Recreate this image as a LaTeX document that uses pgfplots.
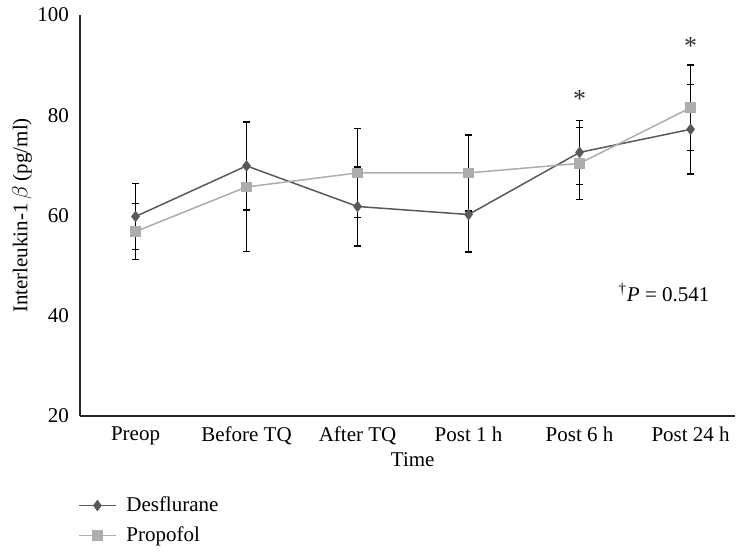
\documentclass[border=0pt]{standalone}
\usepackage{fontspec}
\setmainfont{Liberation Serif}
\usepackage{pgfplots}
\pgfplotsset{compat=1.18}
\definecolor{desf}{HTML}{595959}
\definecolor{prop}{HTML}{ADADAD}
\begin{document}
\begin{tikzpicture}[font=\fontsize{10.5}{12}\selectfont]
\useasboundingbox (-40pt,-69pt) rectangle (328.5pt,208pt);
\begin{axis}[at={(0,0)}, anchor=south west, scale only axis,
  width=327.5pt, height=200.5pt,
  xmin=-0.5, xmax=5.4, ymin=20, ymax=100,
  axis lines=left,
  axis line style={-, line width=0.6pt, black!85},
  xtick={0,...,5},
  xticklabels={Preop, Before TQ, After TQ, Post 1 h, Post 6 h, Post 24 h},
  ytick={20,40,...,100},
  major tick length=0pt,
  /pgf/number format/assume math mode=true,
  xticklabel style={yshift=-2pt},
  yticklabel style={xshift=-2pt},
  every axis x label/.style={at={(axis description cs:0.508,-0.1097)}, anchor=center},
  every axis y label/.style={at={(axis description cs:-0.0886,0.5)}, rotate=90, anchor=center},
  xlabel={Time},
  ylabel={Interleukin-1\,$\beta$ (pg/ml)},
  legend style={at={(axis description cs:-0.003,-0.19)}, anchor=north west,
    draw=none, fill=none, row sep=2pt, inner sep=0pt,
    nodes={inner xsep=5pt}},
  legend image code/.code={\draw[mark repeat=2,mark phase=2,#1] plot coordinates {(0cm,0cm) (0.32cm,0cm) (0.64cm,0cm)};},
  legend cell align=left,
  clip=false,
]
\addplot[desf, line width=0.75pt, mark=diamond*, mark size=2.3pt,
  mark options={fill=desf, draw=desf},
  error bars/.cd, y dir=both, y explicit,
  error bar style={black, line width=0.8pt},
  error mark options={rotate=90, mark size=1.6pt, black, line width=0.7pt}]
  coordinates {
  (0,59.8) +- (0,6.6)
  (1,69.9) +- (0,8.8)
  (2,61.8) +- (0,7.9)
  (3,60.2) +- (0,7.5)
  (4,72.6) +- (0,6.4)
  (5,77.2) +- (0,8.9)
  };
\addlegendentry{Desflurane}
\addplot[prop, line width=0.75pt, mark=square*, mark size=2.3pt,
  mark options={fill=prop, draw=prop},
  error bars/.cd, y dir=both, y explicit,
  error bar style={black, line width=0.8pt},
  error mark options={rotate=90, mark size=1.6pt, black, line width=0.7pt}]
  coordinates {
  (0,56.8) +- (0,5.6)
  (1,65.7) +- (0,12.9)
  (2,68.5) +- (0,8.9)
  (3,68.5) +- (0,7.6)
  (4,70.4) +- (0,7.2)
  (5,81.5) +- (0,8.5)
  };
\addlegendentry{Propofol}
\node[font=\fontsize{13}{14}\selectfont, text=black!80] at (axis cs:4,83.2) {*};
\node[font=\fontsize{13}{14}\selectfont, text=black!80] at (axis cs:5,93.8) {*};
\node at (axis cs:4.76,44.7) {\textsuperscript{†}\textit{P} = 0.541};
\end{axis}
\end{tikzpicture}
\end{document}
